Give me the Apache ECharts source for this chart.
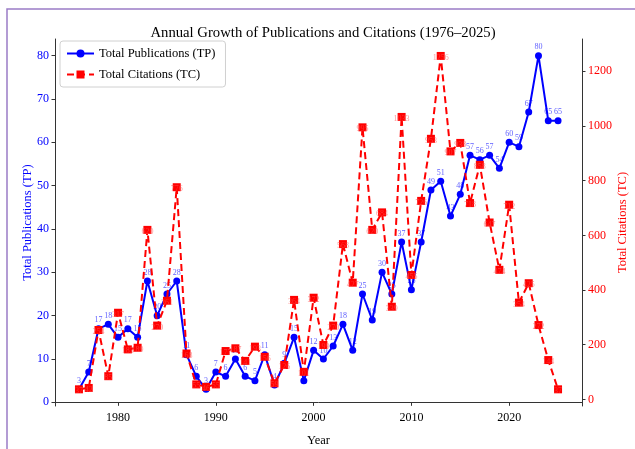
<!DOCTYPE html>
<html>
<head>
    <meta charset="utf-8">
    <title>Annual Growth of Publications and Citations</title>
    <script src="https://cdn.jsdelivr.net/npm/echarts@6/dist/echarts.min.js"></script>
    <style>
        html, body { margin: 0; padding: 0; background: #fff; }
        #chart { width: 635px; height: 449px; }
    </style>
</head>
<body>
<div id="chart"></div>
<script>
    // years 1976-2025
    var years = [];
    for (var y = 1976; y <= 2025; y++) years.push(y);

    // Total Publications (TP)
    var tp = [3, 7, 17, 18, 15, 17, 15, 28, 20, 25,
        28, 11, 6, 3, 7, 6, 10, 6, 5, 11,
        4, 9, 15, 5, 12, 10, 13, 18, 12, 25,
        19, 30, 25, 37, 26, 37, 49, 51, 43, 48,
        57, 56, 57, 54, 60, 59, 67, 80, 65, 65];

    // Total Citations (TC)
    var tc = [37, 42, 254, 85, 317, 183, 189, 620, 270, 361,
        776, 168, 55, 46, 55, 177, 187, 141, 193, 156,
        59, 126, 364, 101, 372, 199, 270, 568, 427, 995,
        620, 684, 339, 1033, 455, 726, 953, 1256, 907, 938,
        718, 858, 647, 474, 712, 354, 425, 272, 144, 37];

    var xTicks = [1980, 1990, 2000, 2010, 2020];
    var tpTicks = [0, 10, 20, 30, 40, 50, 60, 70, 80];
    var tcTicks = [0, 200, 400, 600, 800, 1000, 1200];

    var serif = '"Liberation Serif", "DejaVu Serif", serif';
    var plain = function (v) { return String(v); };

    var tpData = years.map(function (yr, i) { return [yr, tp[i]]; });
    var tcData = years.map(function (yr, i) { return [yr, tc[i]]; });

    var myChart = echarts.init(document.getElementById('chart'));
    var option = {
        animation: false,
        backgroundColor: '#fff',
        title: {
            text: 'Annual Growth of Publications and Citations (1976\u20132025)',
            left: 318, top: 21, textAlign: 'center',
            textStyle: { fontFamily: serif, fontSize: 14.7, fontWeight: 'normal', color: '#000' }
        },
        graphic: [{
            type: 'rect', silent: true,
            shape: { x: 7, y: 9, width: 640, height: 460 },
            style: { fill: null, stroke: '#9a7cc6', lineWidth: 1.5 }
        }],
        legend: {
            left: 60, top: 41, orient: 'vertical',
            itemWidth: 27, itemHeight: 10, itemGap: 8,
            padding: [6, 10, 6, 6],
            borderColor: '#d0d0d0', borderWidth: 1, borderRadius: 3,
            backgroundColor: 'rgba(255,255,255,0.85)',
            textStyle: { fontFamily: serif, fontSize: 12.5, color: '#000' },
            data: ['Total Publications (TP)', 'Total Citations (TC)']
        },
        grid: { left: 55, right: 53, top: 39, bottom: 43, outerBoundsMode: 'none', containLabel: false },
        xAxis: {
            type: 'value', min: 1973.55, max: 2027.45,
            name: 'Year', nameLocation: 'middle', nameGap: 28, nameMoveOverlap: false,
            nameTextStyle: { fontFamily: serif, fontSize: 12.5, color: '#000' },
            splitLine: { show: false },
            axisLine: { lineStyle: { color: '#333', width: 1 } },
            axisTick: { show: true, length: 3.5, inside: false, customValues: xTicks, lineStyle: { color: '#333' } },
            axisLabel: { customValues: xTicks, formatter: plain, fontFamily: serif, fontSize: 12, color: '#000', margin: 6 }
        },
        yAxis: [{
            type: 'value', min: -0.85, max: 83.85, position: 'left',
            name: 'Total Publications (TP)', nameLocation: 'middle', nameGap: 21, nameRotate: 90,
            nameMoveOverlap: false,
            nameTextStyle: { fontFamily: serif, fontSize: 12.5, color: '#0000ff' },
            splitLine: { show: false },
            axisLine: { show: true, lineStyle: { color: '#333', width: 1 } },
            axisTick: { show: true, length: 3.5, customValues: tpTicks, lineStyle: { color: '#333' } },
            axisLabel: { customValues: tpTicks, formatter: plain, fontFamily: serif, fontSize: 12, color: '#0000ff', margin: 6 }
        }, {
            type: 'value', min: -24, max: 1318, position: 'right',
            name: 'Total Citations (TC)', nameLocation: 'middle', nameGap: 34, nameRotate: 90,
            nameMoveOverlap: false,
            nameTextStyle: { fontFamily: serif, fontSize: 12.5, color: '#ff0000' },
            splitLine: { show: false },
            axisLine: { show: true, lineStyle: { color: '#333', width: 1 } },
            axisTick: { show: true, length: 3.5, customValues: tcTicks, lineStyle: { color: '#333' } },
            axisLabel: { customValues: tcTicks, formatter: plain, fontFamily: serif, fontSize: 12, color: '#ff0000', margin: 6 }
        }],
        series: [{
            name: 'Total Publications (TP)',
            type: 'line', yAxisIndex: 0, z: 2,
            data: tpData,
            symbol: 'circle', symbolSize: 7,
            itemStyle: { color: '#0000ff' },
            lineStyle: { color: '#0000ff', width: 2 },
            label: {
                show: true, position: 'top', distance: 1,
                fontFamily: serif, fontSize: 8, color: 'rgba(0,0,255,0.65)'
            }
        }, {
            name: 'Total Citations (TC)',
            type: 'line', yAxisIndex: 1, z: 3,
            data: tcData,
            symbol: 'rect', symbolSize: 8,
            itemStyle: { color: '#ff0000' },
            lineStyle: { color: '#ff0000', width: 2, type: [7, 4] },
            label: {
                show: true, position: 'inside', offset: [0, 2],
                fontFamily: serif, fontSize: 8, color: 'rgba(255,80,80,0.6)'
            }
        }]
    };
    myChart.setOption(option);
</script>
</body>
</html>
